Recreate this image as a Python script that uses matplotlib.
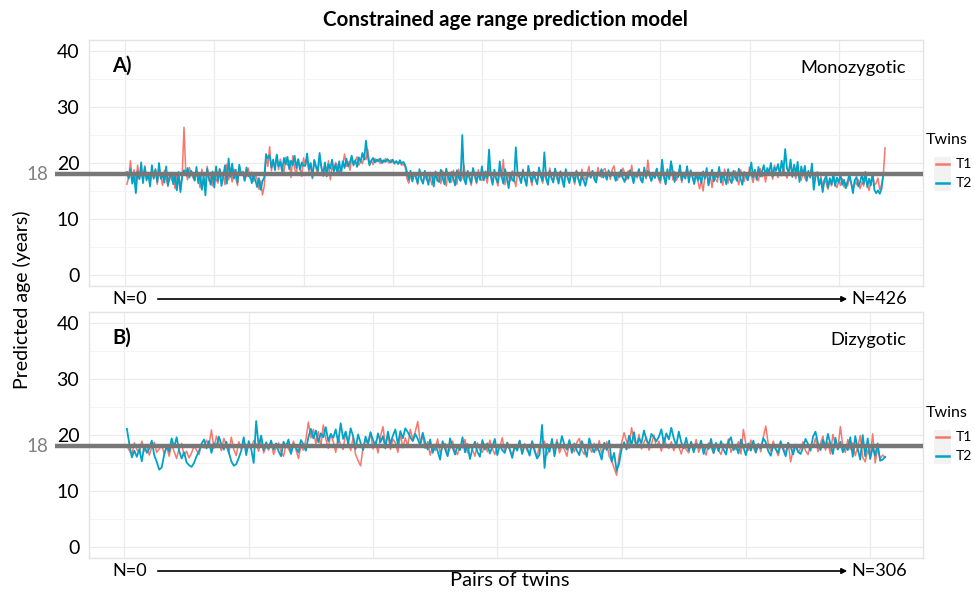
import numpy as np
import matplotlib
matplotlib.use("Agg")
from matplotlib import pyplot as plt
from matplotlib.lines import Line2D
from matplotlib.patches import Rectangle, FancyArrowPatch

plt.rcParams['font.family'] = ['Lato', 'DejaVu Sans']

# predicted ages (monozygotic pairs, N=426)
mz_t1 = [16.2, 17.5, 20.4, 17.0, 18.8, 16.5, 19.6, 17.2, 18.9, 16.8, 19.5, 17.6, 18.3, 16.4, 18.8, 17.1, 19.0, 16.2, 18.4, 17.5,
         16.0, 18.7, 17.3, 15.8, 18.1, 16.9, 17.8, 15.4, 18.2, 16.6, 15.2, 17.9, 26.4, 18.3, 17.0, 19.2, 18.1, 17.4, 16.8, 18.5,
         17.2, 15.6, 18.9, 17.4, 16.2, 19.4, 16.8, 17.6, 15.9, 18.3, 17.1, 16.4, 19.0, 17.5, 18.2, 16.1, 19.8, 17.0, 18.4, 16.6,
         18.9, 17.3, 16.0, 19.2, 17.8, 18.5, 16.9, 17.7, 19.1, 17.2, 18.4, 16.7, 18.0, 17.1, 15.3, 16.8, 14.3, 15.9, 21.2, 19.4,
         22.9, 18.6, 20.3, 19.1, 21.4, 18.8, 20.7, 19.3, 18.2, 21.0, 19.6, 20.4, 17.4, 21.3, 19.0, 18.1, 20.6, 19.2, 17.6, 20.9,
         19.6, 20.8, 18.4, 19.9, 17.2, 20.6, 19.1, 18.0, 20.9, 19.4, 17.6, 19.7, 18.6, 20.4, 17.0, 19.2, 18.8, 20.1, 19.5, 18.2,
         18.9, 19.8, 21.6, 19.4, 20.2, 18.7, 20.9, 19.5, 20.4, 21.1, 19.6, 20.3, 19.9, 21.2, 20.6, 22.4, 19.8, 20.5, 19.7, 20.8,
         20.2, 20.7, 19.9, 20.5, 20.1, 20.8, 20.3, 20.0, 20.6, 20.2, 19.8, 20.4, 19.9, 20.1, 19.6, 19.8, 19.3, 17.2, 16.4, 17.9,
         16.8, 18.1, 17.4, 16.2, 18.5, 17.0, 16.5, 17.8, 16.9, 18.2, 17.3, 16.1, 17.6, 18.4, 16.7, 17.9, 16.3, 18.6, 17.2, 15.9,
         18.3, 17.0, 16.6, 18.7, 17.5, 16.2, 18.9, 16.8, 17.4, 19.6, 16.5, 18.1, 17.2, 16.0, 18.5, 17.6, 16.3, 18.8, 17.1, 16.9,
         18.4, 17.7, 16.4, 19.3, 17.8, 16.6, 18.2, 17.0, 15.9, 18.7, 17.3, 20.6, 16.1, 18.0, 17.5, 16.8, 18.6, 17.2, 15.8, 18.3,
         17.4, 16.7, 18.9, 17.1, 16.2, 18.5, 17.6, 16.0, 18.1, 17.3, 16.5, 18.8, 17.9, 16.4, 18.2, 17.0, 16.3, 19.1, 17.5, 16.8,
         18.4, 17.2, 16.9, 18.6, 17.8, 16.1, 18.3, 17.4, 16.6, 18.0, 17.7, 16.2, 18.7, 17.1, 16.5, 18.9, 17.6, 17.0, 18.2, 19.4,
         17.3, 18.5, 17.9, 16.8, 19.2, 18.0, 17.4, 18.7, 19.0, 17.6, 18.3, 17.1, 18.8, 19.5, 17.7, 16.9, 18.4, 17.5, 19.1, 18.2,
         17.0, 18.6, 17.8, 19.6, 16.7, 18.1, 17.3, 18.9, 17.5, 16.6, 18.4, 17.2, 20.5, 17.9, 16.8, 18.3, 17.6, 19.0, 17.1, 16.4,
         18.7, 17.4, 16.3, 18.2, 17.8, 20.3, 17.0, 18.5, 16.9, 17.7, 18.8, 16.5, 18.0, 17.3, 19.4, 16.8, 18.6, 17.5, 16.2, 18.1,
         17.0, 15.4, 16.8, 15.0, 17.6, 18.4, 16.2, 17.9, 15.6, 18.3, 17.1, 16.6, 18.7, 17.4, 16.0, 18.9, 17.7, 16.4, 18.2, 17.5,
         16.9, 18.6, 17.2, 16.1, 18.8, 17.6, 16.7, 18.3, 17.0, 19.3, 17.8, 16.5, 18.5, 17.3, 16.8, 19.0, 17.5, 18.2, 16.6, 18.7,
         17.9, 18.4, 17.1, 19.6, 18.0, 17.4, 18.9, 17.7, 19.2, 18.1, 17.3, 18.6, 20.1, 17.8, 18.3, 17.2, 19.0, 17.6, 16.9, 18.5,
         17.4, 16.7, 18.2, 17.9, 19.1, 16.5, 17.8, 18.4, 16.2, 17.6, 15.8, 17.1, 16.4, 15.3, 16.9, 15.9, 17.3, 16.1, 15.6, 16.8,
         16.0, 17.2, 15.7, 16.5, 15.9, 17.4, 16.3, 15.5, 16.8, 16.1, 17.0, 15.4, 16.6, 15.9, 17.5, 16.2, 15.1, 16.7, 17.8, 16.0,
         16.4, 17.3, 15.2, 16.1, 17.9, 22.7]
mz_t2 = [18.4, 17.2, 18.9, 16.3, 17.8, 14.6, 18.5, 17.1, 20.1, 16.4, 19.2, 16.9, 18.0, 15.8, 19.6, 17.3, 18.8, 16.6, 20.0, 17.2,
         18.1, 16.5, 19.4, 16.0, 17.6, 18.3, 16.2, 17.9, 15.1, 18.4, 14.8, 17.6, 18.7, 17.8, 19.1, 17.4, 18.6, 18.0, 16.9, 19.3,
         16.4, 18.1, 15.2, 17.7, 14.2, 19.0, 17.3, 16.1, 18.5, 15.6, 19.4, 16.8, 18.9, 15.9, 17.6, 19.6, 16.3, 20.8, 17.5, 19.9,
         17.2, 18.8, 16.5, 19.7, 17.9, 18.4, 16.8, 19.2, 17.6, 18.1, 16.4, 17.8, 16.9, 15.7, 17.3, 15.2, 16.8, 17.4, 21.6, 20.8,
         21.4, 19.2, 20.6, 18.7, 21.5, 19.4, 20.2, 18.5, 20.9, 19.8, 21.1, 18.9, 20.4, 19.6, 21.3, 19.1, 20.7, 18.8, 20.1, 19.5,
         19.5, 21.7, 18.9, 20.0, 17.4, 20.5, 19.4, 18.6, 21.8, 19.2, 17.9, 20.1, 17.6, 19.8, 19.0, 20.6, 18.5, 19.7, 18.2, 20.3,
         18.0, 20.3, 19.1, 20.8, 19.4, 20.1, 21.3, 19.7, 20.5, 19.3, 21.0, 20.2, 21.8, 20.6, 24.0, 21.2, 19.6, 20.4, 20.9, 20.1,
         20.6, 20.3, 20.8, 20.0, 20.5, 20.2, 20.7, 20.4, 20.1, 20.6, 20.0, 20.3, 19.8, 20.5, 19.9, 20.2, 19.6, 18.4, 17.0, 18.6,
         16.7, 18.2, 17.5, 16.4, 18.9, 17.1, 16.3, 18.6, 17.4, 16.1, 18.3, 17.7, 15.8, 18.5, 17.0, 16.6, 18.8, 17.3, 16.2, 19.0,
         17.6, 16.5, 18.4, 17.2, 16.0, 18.7, 17.4, 16.8, 25.0, 17.1, 16.2, 18.6, 17.5, 16.4, 19.1, 17.8, 16.6, 18.3, 17.0, 19.4,
         16.9, 18.5, 17.3, 22.4, 17.6, 16.1, 18.8, 17.2, 16.5, 20.3, 17.7, 16.3, 18.9, 17.4, 15.5, 18.2, 17.0, 16.7, 22.8, 18.1,
         17.5, 16.4, 18.7, 17.2, 15.9, 19.5, 17.8, 16.6, 18.4, 17.1, 16.2, 19.2, 17.6, 16.8, 21.9, 17.4, 16.1, 18.6, 17.3, 16.5,
         19.0, 17.7, 16.3, 18.4, 17.0, 15.7, 18.9, 17.5, 16.4, 18.2, 17.8, 16.6, 18.5, 17.2, 16.0, 17.6, 16.9, 15.9, 17.3, 18.1,
         17.4, 18.6, 17.1, 16.5, 18.3, 17.7, 18.9, 17.4, 18.1, 17.0, 18.7, 17.6, 18.4, 17.9, 16.8, 18.2, 17.5, 18.8, 17.3, 16.6,
         18.1, 17.2, 18.7, 17.8, 16.4, 18.3, 17.6, 18.9, 17.0, 16.5, 19.2, 17.4, 18.6, 17.7, 16.8, 18.0, 17.3, 19.0, 17.5, 16.9,
         20.6, 17.8, 16.2, 18.9, 17.1, 20.3, 18.4, 16.6, 18.1, 17.5, 19.6, 16.9, 18.3, 17.2, 19.4, 16.5, 18.7, 17.6, 16.3, 18.2,
         16.9, 17.8, 16.4, 18.5, 17.2, 19.1, 16.0, 17.6, 18.8, 16.7, 18.2, 17.4, 19.3, 16.5, 18.0, 17.3, 16.2, 18.9, 17.1, 16.4,
         18.6, 17.5, 16.8, 19.0, 17.2, 16.1, 18.4, 17.7, 16.9, 18.2, 20.1, 17.4, 18.8, 17.0, 19.3, 17.6, 18.5, 19.6, 17.8, 19.1,
         18.3, 20.0, 17.6, 19.2, 18.7, 19.8, 17.9, 20.4, 18.5, 22.5, 19.0, 18.2, 20.6, 17.5, 19.7, 18.1, 20.2, 16.6, 19.4, 17.8,
         19.5, 16.9, 18.6, 17.4, 19.9, 15.2, 17.6, 18.3, 16.0, 17.2, 14.8, 16.9, 17.8, 15.6, 17.3, 16.2, 18.1, 15.9, 17.4, 16.5,
         17.9, 16.1, 17.0, 15.5, 16.7, 18.0, 16.4, 14.6, 16.9, 17.5, 15.8, 16.6, 17.9, 16.3, 18.4, 15.7, 17.2, 16.0, 18.1, 15.2,
         14.6, 15.1, 14.5, 15.4, 17.9, 18.2]

# dizygotic pairs, N=306
dz_t1 = [18.0, 17.2, 16.5, 18.6, 17.4, 16.8, 18.9, 17.1, 18.3, 16.4, 17.8, 18.7, 16.9, 17.5, 18.2, 16.6, 17.9, 16.2, 18.4, 17.0,
         15.8, 17.6, 18.5, 16.3, 17.1, 15.9, 16.8, 18.0, 17.3, 16.5, 18.4, 17.7, 19.1, 18.2, 20.9, 17.6, 19.8, 18.5, 17.2, 19.4,
         18.1, 16.7, 19.6, 17.4, 16.3, 18.8, 17.5, 19.3, 16.9, 18.2, 17.6, 19.0, 18.4, 17.1, 19.5, 16.8, 18.0, 17.3, 18.9, 16.5,
         17.8, 18.6, 17.0, 16.2, 18.3, 17.5, 16.7, 18.9, 17.4, 15.8, 18.1, 17.3, 19.2, 22.3, 19.5, 21.0, 18.4, 20.6, 17.9, 21.8,
         19.3, 17.6, 20.2, 18.8, 16.9, 19.7, 18.1, 17.4, 20.5, 18.9, 17.2, 19.6, 16.5, 15.4, 14.5, 17.8, 19.1, 18.3, 20.4, 17.5,
         18.9, 16.8, 19.8, 21.5, 18.2, 20.1, 17.4, 19.3, 18.6, 16.9, 20.2, 17.7, 19.5, 18.0, 21.0, 19.2, 20.6, 22.4, 18.7, 19.9,
         17.6, 18.8, 16.4, 18.1, 17.2, 19.3, 16.7, 17.9, 18.5, 16.3, 17.6, 18.9, 17.1, 16.5, 18.3, 17.7, 19.2, 16.8, 18.0, 17.4,
         16.2, 18.6, 17.3, 16.9, 18.4, 17.0, 19.1, 17.6, 16.5, 18.2, 17.8, 19.5, 16.9, 18.7, 17.3, 16.4, 18.1, 17.5, 19.0, 16.7,
         18.4, 17.2, 16.6, 18.8, 17.5, 16.0, 18.3, 17.7, 18.9, 16.4, 17.6, 18.5, 17.1, 19.2, 16.8, 18.0, 17.4, 16.2, 18.6, 17.9,
         17.0, 18.7, 19.4, 17.3, 16.5, 18.2, 17.8, 16.9, 18.5, 17.2, 19.0, 16.6, 17.5, 18.8, 16.2, 15.4, 14.1, 12.8, 16.3, 18.6,
         20.4, 18.9, 17.6, 21.3, 19.2, 18.0, 20.1, 17.5, 18.7, 19.6, 17.3, 18.4, 20.0, 17.8, 18.9, 17.1, 19.5, 18.2, 17.6, 18.8,
         17.2, 18.5, 17.9, 16.6, 18.3, 17.4, 16.8, 18.7, 17.1, 19.2, 16.9, 18.1, 17.5, 16.4, 18.6, 17.8, 16.7, 18.2, 17.3, 16.5,
         18.4, 17.6, 19.3, 16.9, 18.0, 17.4, 18.8, 16.6, 21.0, 18.3, 17.2, 19.1, 17.7, 16.8, 18.5, 17.0, 19.6, 21.6, 18.4, 17.1,
         18.9, 17.5, 16.3, 18.2, 17.8, 16.7, 18.6, 15.2, 17.4, 18.1, 16.9, 17.6, 18.8, 17.2, 16.5, 18.3, 17.9, 19.4, 17.0, 18.5,
         19.8, 17.3, 18.7, 16.6, 20.1, 18.2, 17.5, 21.5, 18.0, 16.9, 19.2, 17.4, 18.6, 16.3, 17.8, 19.9, 16.0, 15.2, 17.3, 16.1,
         20.2, 15.0, 17.6, 15.8, 16.4, 16.0]
dz_t2 = [21.1, 18.3, 16.0, 17.2, 16.1, 17.5, 15.3, 18.2, 16.8, 17.6, 19.0, 16.4, 15.2, 13.8, 14.2, 16.5, 18.1, 17.0, 19.4, 17.8,
         19.6, 17.2, 15.8, 16.9, 15.1, 14.6, 14.3, 15.0, 16.2, 17.1, 18.4, 19.2, 17.6, 18.9, 16.8, 18.5, 17.9, 19.7, 18.3, 17.4,
         18.8, 16.9, 15.3, 14.5, 14.8, 15.9, 17.2, 19.6, 16.4, 18.9, 17.5, 15.0, 22.5, 18.1, 19.9, 17.3, 18.7, 17.6, 19.0, 17.4,
         18.5, 17.1, 16.2, 18.8, 17.9, 19.2, 16.6, 18.4, 17.7, 16.9, 19.1, 18.3, 17.2, 19.6, 21.1, 19.4, 20.8, 18.7, 20.3, 19.6,
         21.4, 18.9, 20.2, 19.5, 21.0, 18.6, 22.1, 19.3, 20.6, 18.4, 21.2, 19.8, 17.5, 20.1, 18.6, 17.3, 19.7, 18.5, 20.5, 19.1,
         17.9, 20.3, 18.7, 19.8, 17.6, 20.6, 18.4, 19.9, 21.0, 18.3, 20.7, 19.4, 21.2, 20.5, 19.6, 18.9, 20.2, 19.3, 18.1, 20.4,
         18.6, 17.4, 19.2, 16.8, 18.3, 17.1, 15.6, 18.9, 17.5, 16.2, 19.4, 17.8, 16.5, 18.1, 17.3, 19.6, 16.9, 18.4, 15.7, 17.6,
         18.8, 17.0, 16.1, 19.1, 17.4, 18.5, 16.7, 17.9, 19.3, 16.4, 18.2, 17.3, 16.8, 18.6, 17.5, 15.9, 18.0, 17.2, 19.0, 16.6,
         18.3, 17.7, 16.3, 18.9, 17.1, 15.8, 16.5, 21.8, 14.1, 18.4, 17.0, 19.3, 16.2, 18.7, 17.6, 19.8, 18.2, 17.4, 19.1, 16.8,
         18.5, 17.2, 16.4, 18.9, 17.6, 16.1, 19.4, 17.8, 16.9, 18.3, 17.0, 15.6, 18.6, 17.3, 19.0, 15.2, 16.8, 13.6, 14.9, 17.5,
         18.7, 17.4, 19.9, 18.2, 20.5, 17.8, 19.4, 18.6, 20.8, 19.1, 18.3, 20.2, 19.6, 18.9, 19.7, 21.0, 18.5, 20.3, 19.2, 21.3,
         19.4, 18.1, 20.6, 18.7, 17.6, 19.5, 17.2, 18.8, 16.9, 18.4, 17.7, 19.0, 16.6, 18.2, 17.5, 19.3, 16.8, 18.6, 17.1, 18.9,
         17.4, 16.5, 18.8, 19.6, 17.3, 18.1, 16.7, 19.2, 17.8, 16.4, 18.5, 17.2, 19.0, 16.9, 18.3, 17.6, 19.4, 18.7, 17.1, 16.3,
         18.2, 17.5, 16.8, 18.9, 17.4, 16.2, 18.6, 17.9, 16.5, 18.3, 17.0, 16.6, 17.8, 19.3, 18.4, 17.2, 19.7, 20.6, 18.5, 17.3,
         19.1, 17.8, 20.2, 18.4, 16.6, 19.5, 17.4, 18.8, 16.9, 18.1, 17.3, 19.6, 16.1, 19.8, 17.5, 15.6, 20.0, 16.2, 19.4, 15.7,
         17.8, 16.3, 18.5, 15.4, 15.6, 16.1]

panels = [
    ("A)", "Monozygotic", mz_t1, mz_t2, 426),
    ("B)", "Dizygotic", dz_t1, dz_t2, 306),
]
ref_age = 18
twin_labels = ["T1", "T2"]
col_t1 = "#F8766D"
col_t2 = "#00A3C8"

W, H = 975, 594
fig = plt.figure(figsize=(W / 100, H / 100), dpi=100)


def fx(x):
    return x / W


def fy(y):
    return 1 - y / H


# pixel boxes of the two panels (top, bottom)
panel_rows = [(40, 286), (312, 558)]
left_px, right_px = 89, 923

for (tag, name, t1, t2, n), (top, bot) in zip(panels, panel_rows):
    ax = fig.add_axes([fx(left_px), fy(bot), fx(right_px - left_px), (bot - top) / H])
    x1 = np.arange(1, len(t1) + 1)
    x2 = np.arange(1, len(t2) + 1)
    ax.plot(x1, t1, color=col_t1, lw=1.1, zorder=3)
    ax.plot(x2, t2, color=col_t2, lw=1.3, zorder=4)
    pad = (n - 1) * 0.05
    ax.set_xlim(1 - pad, n + pad)
    ax.set_ylim(-2, 42)
    ax.set_yticks([0, 10, 20, 30, 40])
    ax.set_yticks([5, 15, 25, 35], minor=True)
    ax.set_xticks(np.arange(0, n + 1, 50))
    ax.set_xticklabels([])
    ax.tick_params(axis='both', which='both', length=0)
    ax.tick_params(axis='y', labelsize=14, pad=7, colors='black')
    ax.grid(which='major', color='#EBEBEB', lw=0.9)
    ax.grid(which='minor', axis='y', color='#F3F3F3', lw=0.6)
    ax.set_axisbelow(True)
    for s in ax.spines.values():
        s.set_color('#E3E3E3')
        s.set_linewidth(1.0)

    # reference line at 18, running out to its label
    ax.plot([-0.041, 1.0], [ref_age, ref_age], color='#777777', lw=3.2,
            transform=ax.get_yaxis_transform(), clip_on=False, zorder=6,
            solid_capstyle='butt')
    ax.text(-0.049, ref_age, "18", color='#808080', fontsize=13.5, ha='right', va='center',
            transform=ax.get_yaxis_transform())

    ax.text(0.028, 0.935, tag, fontsize=14.5, fontweight='bold', ha='left', va='top',
            transform=ax.transAxes)
    ax.text(0.98, 0.885, name, fontsize=13.2, ha='right', va='center', transform=ax.transAxes)

    # N=0 -> N=n arrow under the panel
    ya = bot + 13
    fig.text(fx(112), fy(ya), "N=0", fontsize=13, ha='left', va='center')
    fig.text(fx(907), fy(ya), "N=%d" % n, fontsize=13, ha='right', va='center')
    arr = FancyArrowPatch((fx(155), fy(ya)), (fx(850), fy(ya)), transform=fig.transFigure,
                          arrowstyle='-|>', mutation_scale=8, lw=1.2, color='black')
    fig.patches.append(arr)

    # legend, drawn by hand in ggplot style
    leg_top = top + 100 if top < 100 else top + 101
    fig.text(fx(926), fy(leg_top), "Twins", fontsize=11.5, ha='left', va='center')
    fig.patches.append(Rectangle((fx(934), fy(leg_top + 51)), fx(17), 34 / H,
                                 transform=fig.transFigure, color='#F2F2F2', lw=0))
    for k, (lab, c) in enumerate(zip(twin_labels, [col_t1, col_t2])):
        yk = leg_top + 24 + k * 19
        fig.lines.append(Line2D([fx(936), fx(949)], [fy(yk), fy(yk)], color=c, lw=1.8,
                                transform=fig.transFigure))
        fig.text(fx(956), fy(yk), lab, fontsize=10, ha='left', va='center')

fig.text(0.518, fy(20), "Constrained age range prediction model", fontsize=14.8,
         fontweight='bold', ha='center', va='center')
fig.text(0.523, fy(581), "Pairs of twins", fontsize=14.5, ha='center', va='center')
fig.text(fx(22), 0.495, "Predicted age (years)", fontsize=14, rotation=90,
         ha='center', va='center')

fig.savefig("out.png", dpi=100)
